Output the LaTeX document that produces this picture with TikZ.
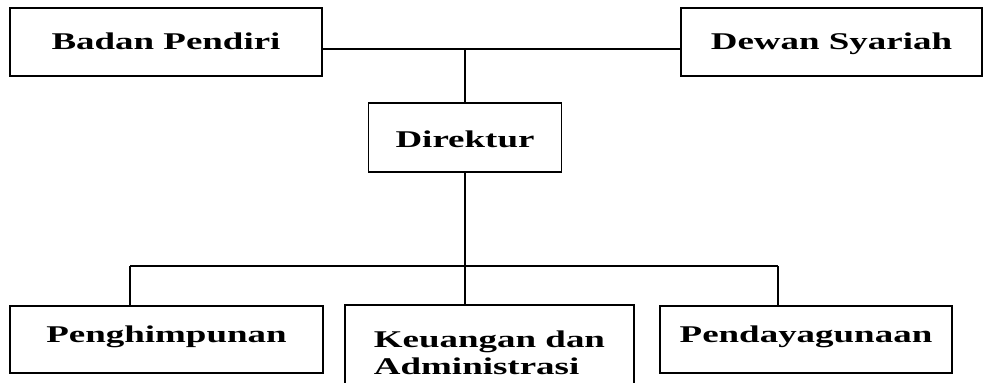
\documentclass[tikz,border=0pt]{standalone}
\usepackage{fontspec}
\newfontfamily\orgfont{Liberation Serif}[FakeStretch=1.54]

\begin{document}
\begin{tikzpicture}[x=1pt, y=-1pt,
        unitbox/.style={rectangle, draw=black, line width=1.6pt, inner sep=0pt, font=\orgfont\bfseries\fontsize{24}{27}\selectfont},
        singlebox/.style={unitbox, text height=16pt, text depth=#1},
        singlebox/.default=0pt,
        link/.style={draw=black, line width=1.4pt}]
        \useasboundingbox (0,0) rectangle (983,383);
        \clip (0,0) rectangle (983,383);
        \node[singlebox=2pt, minimum width=312pt, minimum height=68pt] (badan) at (166,42) {Badan Pendiri};
        \node[singlebox=2pt, minimum width=301pt, minimum height=68pt] (dewan) at (831.5,42) {Dewan Syariah};
        \node[unitbox, text height=19pt, text depth=0pt, minimum width=193pt, minimum height=69pt] (direktur) at (465,137.5) {Direktur};
        \node[singlebox=11pt, minimum width=313pt, minimum height=67pt] (penghimpunan) at (166.5,339.5) {Penghimpunan};
        \node[unitbox, align=left, anchor=north, inner ysep=26pt, minimum width=289pt] (keuangan) at (489.5,304) {Keuangan dan\\Administrasi};
        \node[singlebox=11pt, minimum width=292pt, minimum height=67pt] (pendayagunaan) at (806,339.5) {Pendayagunaan};
        \coordinate (topjoin) at (465,49);
        \coordinate (leftdrop) at (130,266);
        \coordinate (rightdrop) at (778,266);
        \draw[link] (badan.east |- topjoin) -- (dewan.west |- topjoin);
        \draw[link] (topjoin) -- (direktur.north);
        \draw[link] (direktur.south) -- (direktur.south |- keuangan.north);
        \draw[link] (leftdrop) -- (rightdrop);
        \draw[link] (leftdrop) -- (leftdrop |- penghimpunan.north);
        \draw[link] (rightdrop) -- (rightdrop |- pendayagunaan.north);
\end{tikzpicture}
\end{document}
